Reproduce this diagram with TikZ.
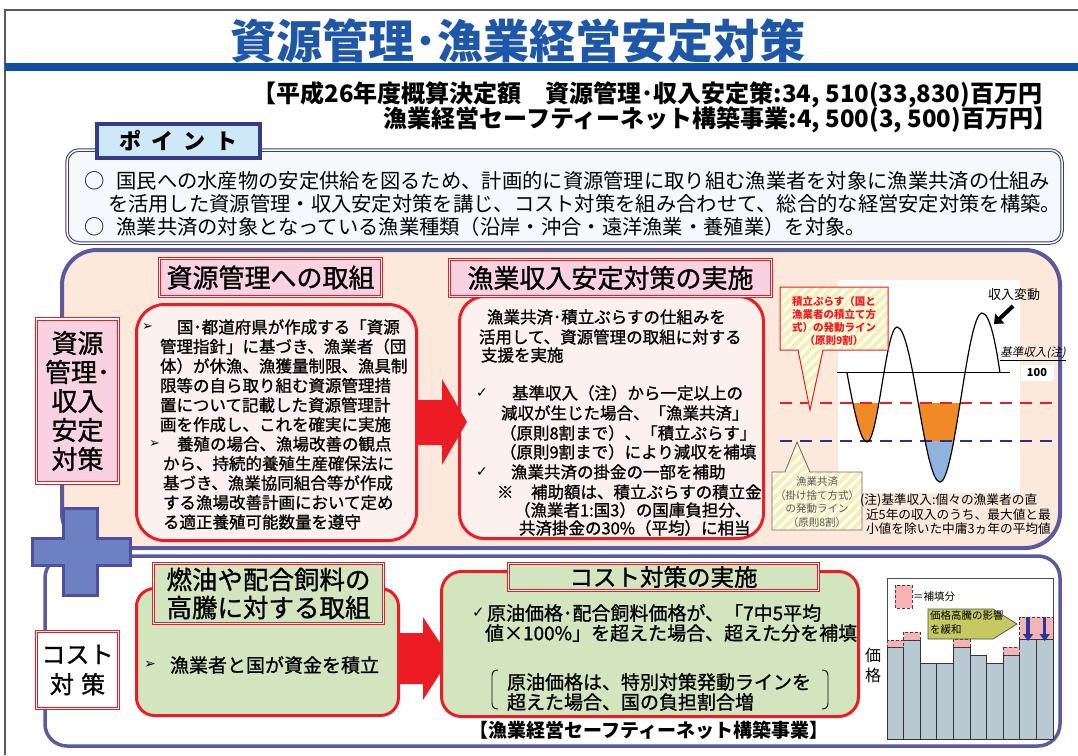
\documentclass[tikz,border=0pt]{standalone}
\usepackage{fontspec}
\setmainfont{Noto Sans CJK JP}
\newfontfamily\jpm{Noto Sans CJK JP}[FakeBold=1.1]
\newfontfamily\jpsl{Noto Sans CJK JP}[FakeSlant=0.2]
\newfontfamily\dv{DejaVu Sans}
\usetikzlibrary{arrows.meta}
\newcommand\fsz[2]{\fontsize{#1}{#2}\selectfont}
\definecolor{tblue}{HTML}{1E56A8}
\definecolor{barblue}{HTML}{1150A1}
\definecolor{ptborder}{HTML}{343A8C}
\definecolor{ptfill}{HTML}{CDE9F8}
\definecolor{ptbg}{HTML}{F5F9FD}
\definecolor{secborder}{HTML}{5B5A9F}
\definecolor{peach}{HTML}{FDE9DB}
\definecolor{redb}{HTML}{EC1C24}
\definecolor{lpink}{HTML}{FDF1EF}
\definecolor{pinkfill}{HTML}{F9D2E2}
\definecolor{greenfill}{HTML}{D3E5BF}
\definecolor{plusfill}{HTML}{6C80C2}
\definecolor{plusborder}{HTML}{4F4EA3}
\definecolor{orangef}{HTML}{F08A24}
\definecolor{lblue}{HTML}{8FB3DC}
\definecolor{navy}{HTML}{2B2F8E}
\definecolor{stripe}{HTML}{F6F0B4}
\definecolor{barfill}{HTML}{B9C9D1}
\definecolor{subpink}{HTML}{F6B3B6}
\definecolor{olive}{HTML}{C6C862}
\definecolor{arrblue}{HTML}{26399A}
\tikzset{
  dbl/.style={draw=redb, line width=0.9pt, double=white, double distance=1.6pt, fill=#1},
  contentbox/.style={draw=redb, line width=3pt, fill=#1},
  bodytext/.style={anchor=west, font=\fsz{16.5}{19}\jpm},
  stripeline/.style={stripe, line width=4pt},
  subbox/.style={fill=subpink, draw=black!75, dashed, line width=0.8pt, dash pattern=on 3pt off 2pt},
}
\begin{document}
\begin{tikzpicture}[x=1pt,y=-1pt,every node/.style={inner sep=0pt,outer sep=0pt}]
\useasboundingbox (0,0) rectangle (1078,755);
\fill[white] (0,0) rectangle (1078,755);
% frame and title
\draw[black!65, line width=1.3pt] (5,755) -- (5,10) -- (1078,10);
\fill[barblue] (5,63) rectangle (1078,71);
\node[font=\fsz{46}{50}\bfseries, text=tblue] (title) at (518,41) {資源管理･漁業経営安定対策};
\node[anchor=east, font=\fsz{24}{26}\bfseries] (bud1) at (1042,95) {【平成26年度概算決定額　資源管理･収入安定策:34, 510(33,830)百万円};
\node[anchor=east, font=\fsz{24}{26}\bfseries] (bud2) at (1057,120) {漁業経営セーフティーネット構築事業:4, 500(3, 500)百万円】};

% point box
\draw[ptborder, line width=1pt, double=white, double distance=1.5pt, fill=ptbg, rounded corners=12pt] (67,150) rectangle (1062,243);
\node[draw=ptborder, line width=3.5pt, fill=ptfill, minimum width=163pt, minimum height=34pt, font=\fsz{22}{24}\bfseries] (point) at (178.5,141) {ポ\hspace{10pt}イ\hspace{10pt}ン\hspace{10pt}ト};
\node[anchor=west, font=\fsz{20.3}{22}] (p1) at (84,181) {○\hspace{0.6em}国民への水産物の安定供給を図るため、計画的に資源管理に取り組む漁業者を対象に漁業共済の仕組み};
\node[anchor=west, font=\fsz{20.3}{22}] (p2) at (108,204) {を活用した資源管理・収入安定対策を講じ、コスト対策を組み合わせて、総合的な経営安定対策を構築。};
\node[anchor=west, font=\fsz{20.3}{22}] (p3) at (84,227) {○\hspace{0.6em}漁業共済の対象となっている漁業種類（沿岸・沖合・遠洋漁業・養殖業）を対象。};

% sections
\draw[secborder, line width=4pt, fill=peach, rounded corners=35pt] (62,250) rectangle (1060,548);
\draw[secborder, line width=3.5pt, fill=white, rounded corners=22pt] (45,556) rectangle (1060,746);
\draw[plusborder, line width=3pt, fill=plusfill] (63,508) -- (97,508) -- (97,538) -- (130,538) -- (130,565) -- (97,565) -- (97,595) -- (63,595) -- (63,565) -- (32,565) -- (32,538) -- (63,538) -- cycle;

% upper left label
\node[dbl=pinkfill, minimum width=82pt, minimum height=164pt, align=center, font=\fsz{26}{29}\jpm] (lab1) at (77.5,401) {資源\\管理･\\収入\\安定\\対策};

% upper left content
\node[contentbox=lpink, rounded corners=28pt, minimum width=280pt, minimum height=236pt] (c1) at (276.5,422.5) {};
\node[dbl=pinkfill, minimum width=222pt, minimum height=38pt, font=\fsz{26}{28}\jpm] (t1) at (270.5,277.5) {資源管理への取組};
\node[anchor=west, font=\fsz{13}{15}\dv] (ar1) at (142,327) {➢};
\node[anchor=west, font=\fsz{13}{15}\dv] (ar2) at (149,444) {➢};
\foreach \yy/\xx/\s [count=\i] in {
 327/177/国･都道府県が作成する「資源,
 346.5/160/管理指針」に基づき、漁業者（団,
 366/160/体）が休漁、漁獲量制限、漁具制,
 385.5/160/限等の自ら取り組む資源管理措,
 405/160/置について記載した資源管理計,
 424.5/160/画を作成し、これを確実に実施,
 444/177/養殖の場合、漁場改善の観点,
 463.5/163/から、持続的養殖生産確保法に,
 483/163/基づき、漁業協同組合等が作成,
 502.5/163/する漁場改善計画において定め,
 522/163/る適正養殖可能数量を遵守}
 \node[bodytext] (L\i) at (\xx,\yy) {\s};

% upper middle content
\node[contentbox=lpink, rounded corners=25pt, minimum width=304pt, minimum height=242pt] (c2) at (611.5,417.5) {};
\node[dbl=pinkfill, minimum width=322pt, minimum height=37pt, font=\fsz{26}{28}\jpm] (t2) at (610.5,278) {漁業収入安定対策の実施};
\node[anchor=west, font=\fsz{14}{15}\dv] (ck1) at (476,393) {✓};
\node[anchor=west, font=\fsz{14}{15}\dv] (ck2) at (476,472) {✓};
\node[bodytext] (kome) at (497,492) {※};
\foreach \yy/\xx/\s [count=\i] in {
 317/487/漁業共済･積立ぷらすの仕組みを,
 337/479/活用して、資源管理の取組に対する,
 355/481/支援を実施,
 393/512/基準収入（注）から一定以上の,
 413/501/減収が生じた場合、「漁業共済」,
 433/500/（原則8割まで）、「積立ぷらす」,
 452/500/（原則9割まで）により減収を補填,
 472/511/漁業共済の掛金の一部を補助,
 492/531/補助額は、積立ぷらすの積立金,
 510/514/（漁業者1:国3）の国庫負担分、,
 528/519/共済掛金の30\%（平均）に相当}
 \node[bodytext] (M\i) at (\xx,\yy) {\s};

% red arrow upper
\fill[redb] (418,400) -- (442,400) -- (442,379) -- (467,422) -- (442,465) -- (442,445) -- (418,445) -- cycle;

% upper right chart
\fill[white] (838,280) rectangle (1020,493);
\begin{scope}
\clip (838,403) rectangle (1020,441);
\fill[orangef] (847,373) .. controls (853,405) and (860,442) .. (867,442) .. controls (878,442) and (886,327) .. (897,327) -- cycle;
\fill[orangef] (897,327) .. controls (913,327) and (924,482) .. (940,482) .. controls (955,482) and (967,313) .. (982,313) -- cycle;
\end{scope}
\begin{scope}
\clip (838,441) rectangle (1020,484);
\fill[lblue] (897,327) .. controls (913,327) and (924,482) .. (940,482) .. controls (955,482) and (967,313) .. (982,313) -- cycle;
\end{scope}
\draw[black, line width=0.9pt] (837,372) -- (1010,372);
\draw[redb, line width=2.6pt, dash pattern=on 12pt off 8pt] (780,403) -- (1053,403);
\draw[navy, line width=2.6pt, dash pattern=on 12pt off 8pt] (780,441) -- (1053,441);
\draw[black, line width=1.2pt] (847,373) .. controls (853,405) and (860,442) .. (867,442) .. controls (878,442) and (886,327) .. (897,327) .. controls (913,327) and (924,482) .. (940,482) .. controls (955,482) and (967,313) .. (982,313) .. controls (990,313) and (996,345) .. (1000,373);
\node[fill=white, minimum width=33pt, minimum height=16pt, font=\fsz{11}{12}\bfseries] (hundred) at (1037,373) {100};
\node[font=\fsz{11.5}{13}\jpsl] (kijun) at (1033,353) {基準収入(注)};
\draw[black, line width=0.5pt] (1000,360) -- (1066,360);
\node[font=\fsz{13}{14}] (hendo) at (1014,295) {収入変動};
\coordinate (hA) at (1013,306);
\coordinate (hB) at (994,324);
\draw[black, line width=4pt, -{Triangle[length=8pt,width=13pt]}] (hA) -- (hB);

% callout 1
\begin{scope}
\clip (780,287) -- (888,287) -- (888,350) -- (823,350) -- (810,410) -- (798,350) -- (780,350) -- cycle;
\fill[white] (775,280) rectangle (895,415);
\foreach \k in {-150,-140,...,130} \draw[stripeline] (775+\k,415) -- ++(135,-135);
\end{scope}
\draw[redb, line width=1pt] (780,287) -- (888,287) -- (888,350) -- (823,350) -- (810,410) -- (798,350) -- (780,350) -- cycle;
\node[align=center, text=redb, font=\fsz{10.5}{12.7}\bfseries] (call1) at (834,321) {積立ぷらす（国と\\漁業者の積立て方\\式）の発動ライン\\（原則9割）};

% callout 2
\begin{scope}
\clip (772,472) -- (785,472) -- (797,442) -- (810,472) -- (862,472) -- (862,530) -- (772,530) -- cycle;
\fill[white] (770,440) rectangle (865,532);
\foreach \k in {-110,-100,...,100} \draw[stripeline] (770+\k,532) -- ++(95,-95);
\end{scope}
\draw[black!60, line width=0.8pt] (772,472) -- (785,472) -- (797,442) -- (810,472) -- (862,472) -- (862,530) -- (772,530) -- cycle;
\node[align=center, text=black!65, font=\fsz{10.5}{13.5}] (call2) at (817,502) {漁業共済\\（掛け捨て方式）\\の発動ライン\\（原則8割）};

% note
\node[anchor=west, font=\fsz{12.7}{14}] (n1) at (860,500) {(注)基準収入:個々の漁業者の直};
\node[anchor=west, font=\fsz{12.7}{14}] (n2) at (866,515) {近5年の収入のうち、最大値と最};
\node[anchor=west, font=\fsz{12.7}{14}] (n3) at (866,529) {小値を除いた中庸3ヵ年の平均値};

% lower section
\node[dbl=white, minimum width=82pt, minimum height=77pt, align=center, font=\fsz{24}{30}\jpm] (lab2) at (77.5,670) {コスト\\対\hspace{0.3em}策};

\node[contentbox=greenfill, rounded corners=18pt, minimum width=262pt, minimum height=127pt] (g1) at (267.5,652) {};
\node[dbl=greenfill, minimum width=230pt, minimum height=60pt, align=center, font=\fsz{25.5}{28}\jpm] (gt1) at (268.5,593.5) {燃油や配合飼料の\\高騰に対する取組};
\node[anchor=west, font=\fsz{14}{15}\dv] (ar3) at (144,665) {➢};
\node[anchor=west, font=\fsz{19}{21}\jpm] (g1t) at (170,665) {漁業者と国が資金を積立};

\fill[redb] (400,633) -- (423,633) -- (423,617) -- (450,658) -- (423,700) -- (423,684) -- (400,684) -- cycle;

\node[contentbox=greenfill, rounded corners=20pt, minimum width=417pt, minimum height=145pt] (g2) at (650,644) {};
\node[dbl=greenfill, minimum width=310pt, minimum height=27pt, font=\fsz{23.5}{25}\jpm] (gt2) at (663.5,577) {コスト対策の実施};
\node[anchor=west, font=\fsz{15}{16}\dv] (ck3) at (472,613) {✓};
\node[anchor=west, font=\fsz{19}{21}\jpm] (g2a) at (487,613) {原油価格･配合飼料価格が、「7中5平均};
\node[anchor=west, font=\fsz{19}{21}\jpm] (g2b) at (485,633) {値×100\%」を超えた場合、超えた分を補填};
\node[anchor=west, font=\fsz{19}{21}\jpm] (g2c) at (507,682) {原油価格は、特別対策発動ラインを};
\node[anchor=west, font=\fsz{19}{21}\jpm] (g2d) at (507,702) {超えた場合、国の負担割合増};
\draw[black, line width=0.9pt] (498,670) .. controls (494,670) and (492,672) .. (492,676) -- (492,703) .. controls (492,707) and (494,709) .. (498,709);
\draw[black, line width=0.9pt] (822,670) .. controls (826,670) and (828,672) .. (828,676) -- (828,703) .. controls (828,707) and (826,709) .. (822,709);
\node[font=\fsz{19}{21}\bfseries] (sfn) at (649,730) {【漁業経営セーフティーネット構築事業】};

% lower right chart
\draw[black!70, line width=0.6pt, fill=white] (887,578) rectangle (1053,739);
\foreach \t [count=\i from 0] in {647,640,663,663,647,655,663,655,639,639}
  \draw[black!80, line width=1pt, fill=barfill] (887+16.6*\i,\t) rectangle (903.6+16.6*\i,739);
\draw[subbox] (887,640) rectangle (903.6,647);
\draw[subbox] (903.6,632) rectangle (920.2,640);
\draw[subbox] (953.4,639) rectangle (970,647);
\draw[subbox] (1003.2,647) rectangle (1019.8,655);
\draw[subbox] (1019.8,617) rectangle (1053,639);
\draw[subbox] (895,585) rectangle (912,608);
\node[anchor=west, font=\fsz{10.5}{12}] (leg) at (913,597) {＝補填分};
\draw[black!70, line width=0.7pt, fill=olive] (928,609) -- (993,609) -- (1017,624) -- (993,639) -- (928,639) -- cycle;
\node[anchor=north west, align=left, font=\fsz{10.5}{14}] (olt) at (930,611) {価格高騰の影響\\を緩和};
\coordinate (d1a) at (1028.1,617);
\coordinate (d1b) at (1028.1,641);
\coordinate (d2a) at (1044.7,617);
\coordinate (d2b) at (1044.7,641);
\draw[arrblue, line width=3.5pt, -{Triangle[length=7pt,width=10pt]}] (d1a) -- (d1b);
\draw[arrblue, line width=3.5pt, -{Triangle[length=7pt,width=10pt]}] (d2a) -- (d2b);
\node[align=center, font=\fsz{16}{20}] (kakaku) at (873,665) {価\\格};
\end{tikzpicture}
\end{document}
